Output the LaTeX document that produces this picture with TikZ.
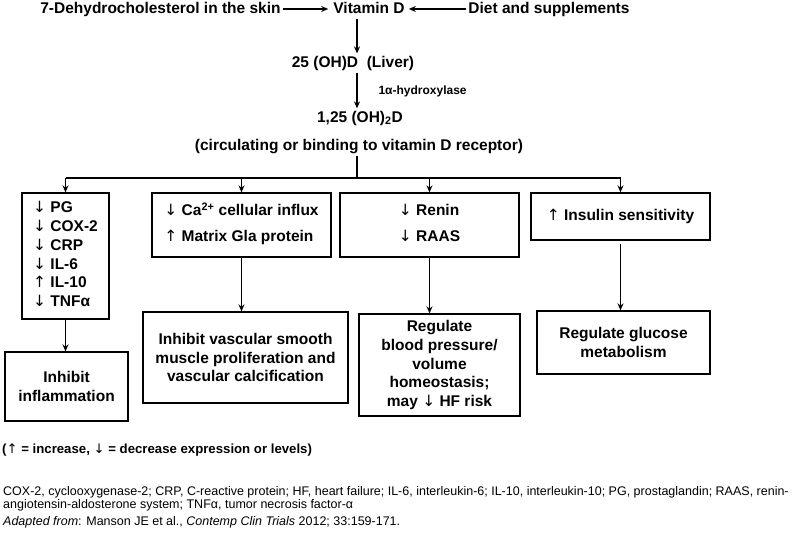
\documentclass[tikz,border=0pt]{standalone}
\usepackage{fontspec}
\setmainfont{Liberation Sans}
\newfontfamily\arrowfont{DejaVu Sans}
\newcommand\dnar{{\arrowfont\mdseries ↓}}
\newcommand\upar{{\arrowfont\mdseries ↑}}
\usetikzlibrary{arrows.meta,positioning}

\begin{document}
\begin{tikzpicture}[x=1pt,y=-1pt,
  txt/.style={font=\fontsize{15.5}{18.8}\selectfont\bfseries, inner sep=2pt, text height=11.5pt, text depth=3.3pt},
  box/.style={draw, line width=1.3pt, font=\fontsize{15.5}{18.8}\selectfont\bfseries, align=center, inner sep=0pt},
  arr/.style={-{Stealth[length=7pt,width=6pt]}, line width=1.4pt},
  note/.style={font=\fontsize{12.5}{12.8}\selectfont, anchor=west, inner sep=0pt, align=left}]

\useasboundingbox (0,0) rectangle (800,541);

% Sources of vitamin D
\node[txt] (vitd) at (369,9) {Vitamin D};
\node[txt] (skin) at (160.5,9) {7-Dehydrocholesterol in the skin};
\node[txt] (diet) at (549,9) {Diet and supplements};
\coordinate (stem) at (357,0);

% Metabolites
\node[txt] (liver) at (353,63) {25 (OH)D\ \ (Liver)};
\node[font=\fontsize{12}{14}\selectfont\bfseries, anchor=west] (enz) at (375,91) {1α-hydroxylase};
\node[txt] (calc) at (360,118) {1,25 (OH)\textsubscript{2}D};
\node[txt] (circ) at (359,146) {(circulating or binding to vitamin D receptor)};
\coordinate (bus) at (357,178);

% Effects
\node[box, minimum width=87, minimum height=126] (inf) at (65.5,256)
  {\begin{tabular}{@{}l@{}}\dnar\ PG\\ \dnar\ COX-2\\ \dnar\ CRP\\ \dnar\ IL-6\\ \upar\ IL-10\\ \dnar\ TNFα\end{tabular}};
\node[box, minimum width=179, minimum height=64] (cal) at (241.5,225)
  {\begin{tabular}{@{}l@{}}\dnar\ Ca\textsuperscript{2+} cellular influx\\[7pt] \upar\ Matrix Gla protein\end{tabular}};
\node[box, minimum width=179, minimum height=64] (ren) at (429.5,225)
  {\begin{tabular}{@{}l@{}}\dnar\ Renin\\[7pt] \dnar\ RAAS\end{tabular}};
\node[box, minimum width=179, minimum height=47] (ins) at (620.5,216.5) {\upar\ Insulin sensitivity};

% Outcomes
\node[box, minimum width=123, minimum height=69] (infl) at (66.5,386.5) {Inhibit\\ inflammation};
\node[box, minimum width=205, minimum height=91] (vasc) at (245.5,357.5)
  {Inhibit vascular smooth\\ muscle proliferation and\\ vascular calcification};
\node[box, minimum width=161, minimum height=102] (bp) at (439.5,365)
  {Regulate\\ blood pressure/\\ volume\\ homeostasis;\\ may \dnar\ HF risk};
\node[box, minimum width=173, minimum height=63] (glu) at (623.5,342.5)
  {Regulate glucose\\ metabolism};

% Connectors
\draw[arr, shorten >=3pt] (skin.east) -- (vitd.west);
\draw[arr, shorten >=2pt] (diet.west) -- (vitd.east);
\draw[arr] (vitd.south -| stem) -- (liver.north -| stem);
\draw[arr] (liver.south -| stem) -- (calc.north -| stem);
\draw[line width=1.4pt] (circ.south -| stem) -- (bus);
\draw[line width=1.4pt] (bus -| inf.north) -- (bus -| ins.north);
\foreach \b in {inf,cal,ren,ins}
  \draw[arr] (bus -| \b.north) -- (\b.north);
\draw[arr] (inf.south) -- (inf.south |- infl.north);
\draw[arr] (cal.south) -- (cal.south |- vasc.north);
\draw[arr] (ren.south) -- (ren.south |- bp.north);
\draw[arr, shorten <=3pt] (ins.south) -- (ins.south |- glu.north);

% Legend and notes
\node[font=\fontsize{13.2}{15}\selectfont\bfseries, anchor=west, inner sep=0pt] (key) at (2,450)
  {(\upar\ = increase, \dnar\ = decrease expression or levels)};
\node[note] (abbr) at (3,499)
  {COX-2, cyclooxygenase-2; CRP, C-reactive protein; HF, heart failure; IL-6, interleukin-6; IL-10, interleukin-10; PG, prostaglandin; RAAS, renin-\\
   angiotensin-aldosterone system; TNFα, tumor necrosis factor-α};
\node[note] (src) at (3,522)
  {\textit{Adapted from}: Manson JE et al., \textit{Contemp Clin Trials} 2012; 33:159-171.};

\end{tikzpicture}
\end{document}
